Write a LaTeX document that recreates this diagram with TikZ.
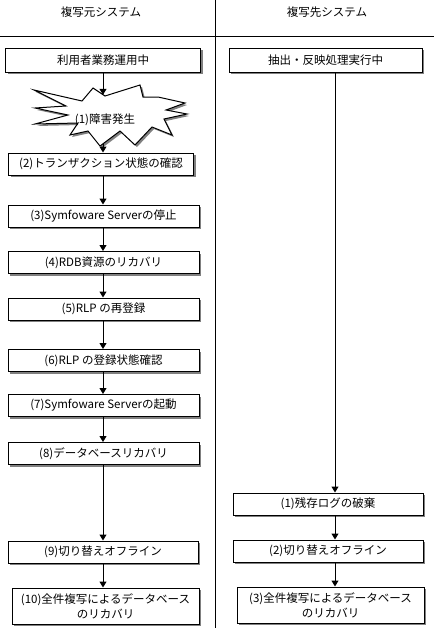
\documentclass[tikz,border=0pt]{standalone}
\usepackage{fontspec}
\setmainfont{Noto Sans CJK JP}
\usetikzlibrary{arrows.meta,shadows}

\begin{document}
\begin{tikzpicture}[x=1pt,y=-1pt]
    % Define styles
    \tikzstyle{boxshadow} = [general shadow={fill=gray, shadow xshift=2pt, shadow yshift=-2pt}]
    \tikzstyle{stepbox} = [draw, fill=white, line width=1pt, inner sep=1pt, minimum height=22pt, font=\fontsize{11.5}{15}\selectfont, boxshadow]
    \tikzstyle{heading} = [font=\fontsize{11.5}{15}\selectfont]
    \tikzstyle{arrow} = [line width=1pt, -{Triangle[width=7pt,length=6pt]}]
    \tikzstyle{rule} = [line width=1pt]

    \useasboundingbox (0,0) rectangle (434,635);

    % Lanes
    \node (src) [heading] at (101,12) {複写元システム};
    \node (dst) [heading] at (327,12) {複写先システム};
    \coordinate (midtop) at (215,0);
    \coordinate (midbot) at (215,628);
    \coordinate (headl) at (0,36);
    \coordinate (headr) at (434,36);
    \draw [rule] (midtop) -- (midbot);
    \draw [rule] (headl) -- (headr);
    \coordinate (llane) at (103,0);
    \coordinate (rlane) at (335,0);

    % Failure burst
    \filldraw [fill=white, rule, boxshadow] (105,96) -- (140,85) -- (143,97) -- (158,97)
        -- (185,103) -- (166,110) -- (187,114) -- (164,119) -- (172,135) -- (152,127)
        -- (135,145) -- (120,131) -- (100,146) -- (88,131) -- (70,135) -- (78,123)
        -- (35,124) -- (68,115) -- (35,108) -- (66,106) -- (34,90) -- (82,101)
        -- (93,88) -- cycle;

    % Source system steps
    \node (use) [stepbox, minimum width=195pt, minimum height=24pt] at (103,60) {利用者業務運用中};
    \node (burst) [inner sep=0pt, minimum width=60pt, minimum height=49pt, heading] at (105,119.5) {(1)障害発生};
    \node (s2) [stepbox, minimum width=185pt] at (101,164) {(2)トランザクション状態の確認};
    \node (s3) [stepbox, minimum width=191pt] at (103.5,216) {(3)Symfoware Serverの停止};
    \node (s4) [stepbox, minimum width=191pt] at (103.5,262.5) {(4)RDB資源のリカバリ};
    \node (s5) [stepbox, minimum width=191pt] at (103.5,309) {(5)RLP の再登録};
    \node (s6) [stepbox, minimum width=191pt] at (103.5,360.5) {(6)RLP の登録状態確認};
    \node (s7) [stepbox, minimum width=191pt] at (103.5,405.5) {(7)Symfoware Serverの起動};
    \node (s8) [stepbox, minimum width=191pt] at (103.5,453.5) {(8)データベースリカバリ};
    \node (s9) [stepbox, minimum width=190pt] at (103,552) {(9)切り替えオフライン};
    \node (s10) [stepbox, minimum width=187pt, minimum height=36pt, align=center] at (105.5,606) {(10)全件複写によるデータベース\\のリカバリ};

    % Target system steps
    \node (run) [stepbox, minimum width=193pt, minimum height=24pt] at (325.5,60) {抽出・反映処理実行中};
    \node (t1) [stepbox, minimum width=190pt] at (328,504) {(1)残存ログの破棄};
    \node (t2) [stepbox, minimum width=190pt] at (328,551) {(2)切り替えオフライン};
    \node (t3) [stepbox, minimum width=187pt, minimum height=36pt, align=center] at (330.5,605) {(3)全件複写によるデータベース\\のリカバリ};

    % Draw flow
    \draw [arrow] (use.south -| llane) -- (burst.north -| llane);
    \draw [arrow] (burst.south -| llane) -- (s2.north -| llane);
    \draw [arrow] (s2.south -| llane) -- (s3.north -| llane);
    \draw [arrow] (s3.south -| llane) -- (s4.north -| llane);
    \draw [arrow] (s4.south -| llane) -- (s5.north -| llane);
    \draw [arrow] (s5.south -| llane) -- (s6.north -| llane);
    \draw [arrow] (s6.south -| llane) -- (s7.north -| llane);
    \draw [arrow] (s7.south -| llane) -- (s8.north -| llane);
    \draw [arrow] (s8.south -| llane) -- (s9.north -| llane);
    \draw [arrow] (s9.south -| llane) -- (s10.north -| llane);
    \draw [arrow] (run.south -| rlane) -- (t1.north -| rlane);
    \draw [arrow] (t1.south -| rlane) -- (t2.north -| rlane);
    \draw [arrow] (t2.south -| rlane) -- (t3.north -| rlane);
\end{tikzpicture}
\end{document}
